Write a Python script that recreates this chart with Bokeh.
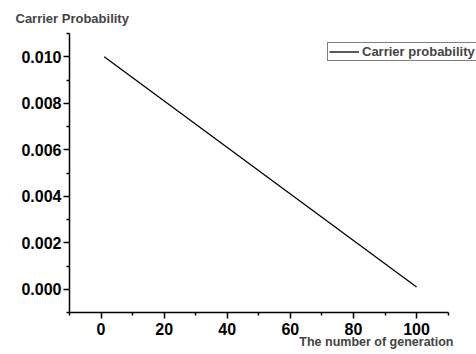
from bokeh.plotting import figure
from bokeh.models import Range1d, Legend, LegendItem, FixedTicker, Title, CustomJSTickFormatter
from bokeh.embed import file_html
from bokeh.resources import INLINE

generation = [1, 100]
carrier_prob = [0.0100, 0.0001]
x_ticks = [0, 20, 40, 60, 80, 100]
x_minor = [-10, 10, 30, 50, 70, 90, 110]
y_ticks = [0.000, 0.002, 0.004, 0.006, 0.008, 0.010]
y_minor = [-0.001, 0.001, 0.003, 0.005, 0.007, 0.009, 0.011]

FONT = "Liberation Sans"

p = figure(width=476, height=354, output_backend="svg", toolbar_location=None,
           x_range=Range1d(-10, 119), y_range=Range1d(-0.001, 0.011),
           min_border_left=69, min_border_right=0, min_border_top=33, min_border_bottom=42)
p.outline_line_color = None
p.grid.grid_line_color = None

r = p.line(generation, carrier_prob, line_color="black", line_width=1.3)

for ax in (p.xaxis[0], p.yaxis[0]):
    ax.axis_line_width = 1.5
    ax.major_tick_line_width = 1.5
    ax.minor_tick_line_width = 1.5
    ax.major_tick_out = 6
    ax.major_tick_in = 0
    ax.minor_tick_out = 3
    ax.minor_tick_in = 0
    ax.major_label_text_font = FONT
    ax.major_label_text_font_style = "bold"
    ax.major_label_text_font_size = "16px"
    ax.major_label_text_color = "black"

p.xaxis.bounds = (-10, 110)
p.xaxis.ticker = FixedTicker(ticks=x_ticks, minor_ticks=x_minor)
p.yaxis.ticker = FixedTicker(ticks=y_ticks, minor_ticks=y_minor)
p.yaxis.formatter = CustomJSTickFormatter(code="return tick.toFixed(3);")
p.yaxis.major_label_standoff = 2
p.xaxis.major_label_standoff = 4

legend = Legend(items=[LegendItem(label="Carrier probability", renderers=[r])],
                location=(258, 251), border_line_color="black", border_line_width=1,
                label_text_font=FONT, label_text_font_style="bold", label_text_font_size="13px",
                glyph_width=30, glyph_height=13, label_standoff=3, padding=1, margin=0,
                label_height=13, background_fill_alpha=1)
p.add_layout(legend, "center")

p.add_layout(Title(text="Carrier Probability", align="left", offset=-54, standoff=15,
                   text_font=FONT, text_font_style="bold", text_font_size="13px"), "above")
p.add_layout(Title(text="The number of generation", align="right", offset=23, standoff=-9,
                   text_font=FONT, text_font_style="bold", text_font_size="12.5px"), "below")

open("out.html", "w").write(file_html(p, INLINE))
